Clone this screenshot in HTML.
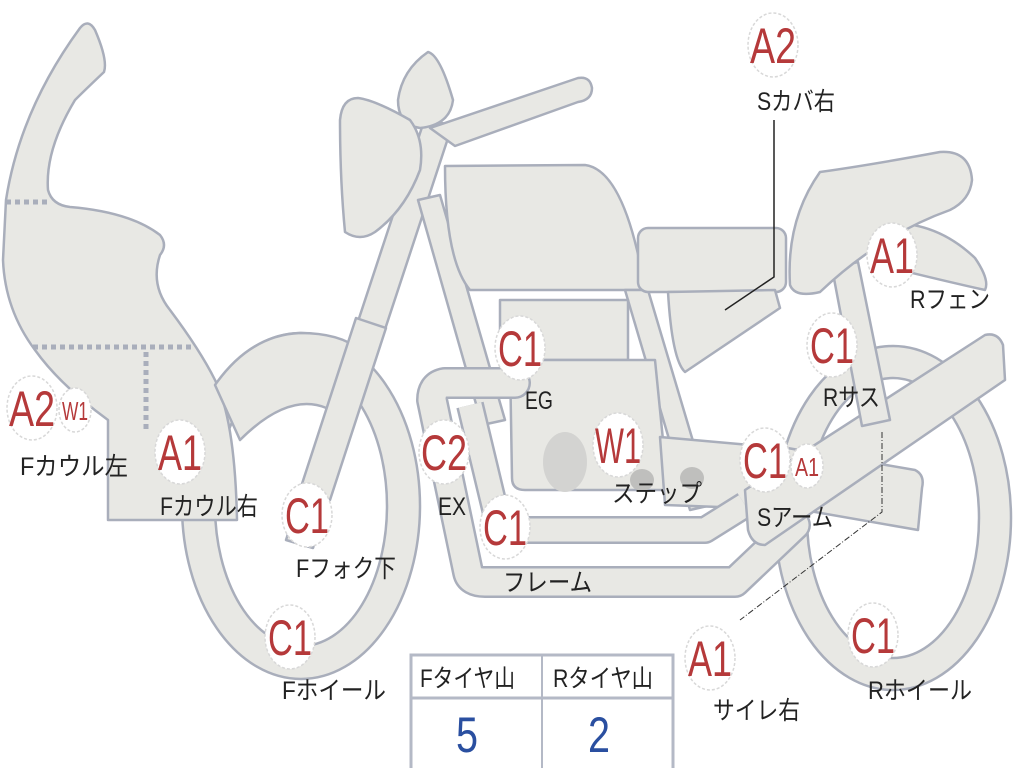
<!DOCTYPE html>
<html><head><meta charset="utf-8"><style>
html,body{margin:0;padding:0;background:#fff;}
svg{display:block}
.s{fill:#e8e8e4;stroke:#a9aebb;stroke-width:2.5;stroke-linejoin:round}
.r{fill:#b5393a;font-family:"Liberation Sans",sans-serif;font-size:50px;text-anchor:middle}
.rs{fill:#b5393a;font-family:"Liberation Sans",sans-serif;font-size:26px;text-anchor:middle}
.k{fill:#222;font-family:"Liberation Sans","Noto Sans CJK JP",sans-serif;font-size:25px}
.c{fill:#fff;stroke:#d8d8d8;stroke-width:1.5;stroke-dasharray:3 2}
</style></head><body>
<svg width="1024" height="768" viewBox="0 0 1024 768" xmlns="http://www.w3.org/2000/svg">
<!-- front wheel -->
<ellipse class="s" cx="301" cy="506" rx="119" ry="173"/>
<ellipse cx="301" cy="506" rx="86" ry="140" fill="#fff" stroke="#a9aebb" stroke-width="2.5"/>
<!-- rear wheel -->
<ellipse class="s" cx="893" cy="518" rx="118" ry="172"/>
<ellipse cx="893" cy="518" rx="86" ry="140" fill="#fff" stroke="#a9aebb" stroke-width="2.5"/>
<!-- cowl -->
<path class="s" d="M6,200 Q20,110 80,28 Q88,18 95,30 Q108,60 104,72 Q85,90 75,100 Q45,150 48,190 Q52,205 70,207 Q130,212 160,235 Q168,245 160,255 Q150,285 170,310 Q200,350 215,380 Q235,420 237,520 L108,520 L108,420 Q60,385 35,350 Q5,310 3,260 Z"/>
<path d="M6,202 H50 M33,347 H192 M146,352 V432" stroke="#a9aebb" stroke-width="5" stroke-dasharray="5 4" fill="none"/>
<!-- front fender piece -->
<path class="s" d="M215,385 Q250,335 300,333 Q340,333 360,350 L345,420 Q300,380 240,440 Z"/>
<!-- fork -->
<path class="s" d="M286,540 L425,118 L452,126 L313,548 Z"/>
<path class="s" d="M356,318 L386,328 L330,500 L300,490 Z"/>
<!-- frame tube -->
<path class="s" d="M418,200 L440,195 L505,420 L482,425 Z"/>
<!-- handlebar -->
<path class="s" d="M430,128 L578,78 Q590,76 592,88 Q592,100 578,102 L455,146 Z"/>
<!-- meter -->
<path class="s" d="M428,52 Q440,55 453,100 Q450,125 420,128 Q398,125 398,100 Q402,70 428,52 Z"/>
<!-- headlight -->
<path class="s" d="M358,98 Q375,100 410,120 Q425,140 420,170 Q405,210 375,232 Q360,242 345,232 Q340,180 340,120 Q342,98 358,98 Z"/>
<!-- tank -->
<path class="s" d="M445,166 L585,165 Q625,170 645,290 L470,290 Q445,260 445,166 Z"/>
<!-- frame rear tube -->
<path class="s" d="M625,290 L648,290 L712,505 L690,510 Z"/>
<!-- engine -->
<rect class="s" x="500" y="300" width="128" height="60"/>
<path class="s" d="M510,360 H655 L668,490 H525 Q512,490 512,478 Z"/>
<ellipse cx="565" cy="462" rx="22" ry="30" fill="#d3d3d1"/>
<!-- step bar -->
<path class="s" d="M660,437 L750,445 L795,450 L800,510 L665,505 Z"/>
<ellipse cx="642" cy="480" rx="12" ry="11" fill="#bfbfbd"/>
<ellipse cx="692" cy="478" rx="12" ry="11" fill="#bfbfbd"/>
<!-- exhaust -->
<path d="M515,383 H445 Q432,385 432,400 L468,572 Q470,582 485,582 H735 L795,525" fill="none" stroke="#a9aebb" stroke-width="32" stroke-linejoin="round" stroke-linecap="round"/>
<path d="M515,383 H445 Q432,385 432,400 L468,572 Q470,582 485,582 H735 L795,525" fill="none" stroke="#e8e8e4" stroke-width="27" stroke-linejoin="round" stroke-linecap="round"/>
<path d="M470,405 L500,530 H705 L745,505" fill="none" stroke="#a9aebb" stroke-width="28" stroke-linejoin="round"/>
<path d="M470,405 L500,530 H705 L745,505" fill="none" stroke="#e8e8e4" stroke-width="23" stroke-linejoin="round"/>
<!-- swing arm lower -->
<path class="s" d="M770,445 L915,470 Q925,475 922,488 L918,530 L775,505 Z"/>
<!-- swing arm -->
<path class="s" d="M745,490 L985,335 Q998,332 1003,345 L1005,380 L765,545 Q752,545 748,530 Z"/>
<!-- seat front -->
<rect class="s" x="638" y="228" width="148" height="64" rx="10"/>
<!-- side cover -->
<path class="s" d="M668,292 L775,290 L780,308 L685,372 Q672,360 668,292 Z"/>
<!-- rear shock -->
<path class="s" d="M832,268 L858,262 L890,420 L862,426 Z"/>
<!-- rear fender -->
<path class="s" d="M870,225 Q930,215 975,258 Q990,280 985,290 Q940,280 880,265 Z"/>
<!-- tail -->
<path class="s" d="M820,172 Q870,165 940,152 Q970,150 972,180 Q970,200 950,210 Q880,235 820,292 Q795,298 790,285 Q786,220 820,172 Z"/>
<!-- leader lines -->
<path d="M774,120 V277 L725,310" fill="none" stroke="#222" stroke-width="1.5"/>
<path d="M882,432 V512 L740,620" fill="none" stroke="#333" stroke-width="1" stroke-dasharray="6 2 1 2"/>
<!-- callouts -->
<ellipse class="c" cx="32" cy="408" rx="25" ry="32"/><text class="r" x="32" y="426" textLength="46" lengthAdjust="spacingAndGlyphs">A2</text>
<ellipse class="c" cx="75" cy="410" rx="16" ry="22"/><text class="rs" x="75" y="420" textLength="26" lengthAdjust="spacingAndGlyphs">W1</text>
<text class="k" x="20" y="475" textLength="108" lengthAdjust="spacingAndGlyphs">Fカウル左</text>
<ellipse class="c" cx="180" cy="452" rx="25" ry="32"/><text class="r" x="180" y="470" textLength="44" lengthAdjust="spacingAndGlyphs">A1</text>
<text class="k" x="160" y="515" textLength="98" lengthAdjust="spacingAndGlyphs">Fカウル右</text>
<ellipse class="c" cx="307" cy="515" rx="25" ry="32"/><text class="r" x="307" y="533" textLength="44" lengthAdjust="spacingAndGlyphs">C1</text>
<text class="k" x="296" y="577" textLength="100" lengthAdjust="spacingAndGlyphs">Fフォク下</text>
<ellipse class="c" cx="290" cy="637" rx="25" ry="32"/><text class="r" x="290" y="655" textLength="44" lengthAdjust="spacingAndGlyphs">C1</text>
<text class="k" x="282" y="699" textLength="104" lengthAdjust="spacingAndGlyphs">Fホイール</text>
<ellipse class="c" cx="444" cy="452" rx="25" ry="32"/><text class="r" x="444" y="470" textLength="46" lengthAdjust="spacingAndGlyphs">C2</text>
<text class="k" x="438" y="515" textLength="28" lengthAdjust="spacingAndGlyphs">EX</text>
<ellipse class="c" cx="520" cy="348" rx="25" ry="32"/><text class="r" x="520" y="366" textLength="44" lengthAdjust="spacingAndGlyphs">C1</text>
<text class="k" x="525" y="409" textLength="28" lengthAdjust="spacingAndGlyphs">EG</text>
<ellipse class="c" cx="618" cy="445" rx="25" ry="32"/><text class="r" x="618" y="463" textLength="46" lengthAdjust="spacingAndGlyphs">W1</text>
<text class="k" x="612" y="502" textLength="90" lengthAdjust="spacingAndGlyphs">ステップ</text>
<ellipse class="c" cx="505" cy="527" rx="25" ry="32"/><text class="r" x="505" y="545" textLength="44" lengthAdjust="spacingAndGlyphs">C1</text>
<text class="k" x="503" y="591" textLength="89" lengthAdjust="spacingAndGlyphs">フレーム</text>
<ellipse class="c" cx="765" cy="460" rx="25" ry="32"/><text class="r" x="765" y="478" textLength="44" lengthAdjust="spacingAndGlyphs">C1</text>
<ellipse class="c" cx="807" cy="466" rx="16" ry="22"/><text class="rs" x="807" y="476" textLength="24" lengthAdjust="spacingAndGlyphs">A1</text>
<text class="k" x="757" y="526" textLength="76" lengthAdjust="spacingAndGlyphs">Sアーム</text>
<ellipse class="c" cx="832" cy="345" rx="25" ry="32"/><text class="r" x="832" y="363" textLength="44" lengthAdjust="spacingAndGlyphs">C1</text>
<text class="k" x="823" y="406" textLength="57" lengthAdjust="spacingAndGlyphs">Rサス</text>
<ellipse class="c" cx="892" cy="255" rx="25" ry="32"/><text class="r" x="892" y="273" textLength="44" lengthAdjust="spacingAndGlyphs">A1</text>
<text class="k" x="910" y="308" textLength="80" lengthAdjust="spacingAndGlyphs">Rフェン</text>
<ellipse class="c" cx="773" cy="45" rx="25" ry="32"/><text class="r" x="773" y="63" textLength="46" lengthAdjust="spacingAndGlyphs">A2</text>
<text class="k" x="757" y="110" textLength="78" lengthAdjust="spacingAndGlyphs">Sカバ右</text>
<ellipse class="c" cx="710" cy="658" rx="25" ry="32"/><text class="r" x="710" y="676" textLength="44" lengthAdjust="spacingAndGlyphs">A1</text>
<text class="k" x="713" y="719" textLength="87" lengthAdjust="spacingAndGlyphs">サイレ右</text>
<ellipse class="c" cx="873" cy="635" rx="25" ry="32"/><text class="r" x="873" y="653" textLength="44" lengthAdjust="spacingAndGlyphs">C1</text>
<text class="k" x="868" y="699" textLength="104" lengthAdjust="spacingAndGlyphs">Rホイール</text>
<!-- table -->
<rect x="411" y="655" width="262" height="118" fill="#fff" stroke="#b4b9c6" stroke-width="3"/>
<line x1="411" y1="698" x2="673" y2="698" stroke="#b4b9c6" stroke-width="3"/>
<line x1="542" y1="655" x2="542" y2="768" stroke="#b4b9c6" stroke-width="2"/>
<text class="k" x="420" y="687" textLength="95" lengthAdjust="spacingAndGlyphs">Fタイヤ山</text>
<text class="k" x="553" y="687" textLength="100" lengthAdjust="spacingAndGlyphs">Rタイヤ山</text>
<text x="467" y="752" fill="#2a4fa0" font-family="Liberation Sans,sans-serif" font-size="50" text-anchor="middle" textLength="22" lengthAdjust="spacingAndGlyphs">5</text>
<text x="599" y="752" fill="#2a4fa0" font-family="Liberation Sans,sans-serif" font-size="50" text-anchor="middle" textLength="22" lengthAdjust="spacingAndGlyphs">2</text>
</svg>
</body></html>
